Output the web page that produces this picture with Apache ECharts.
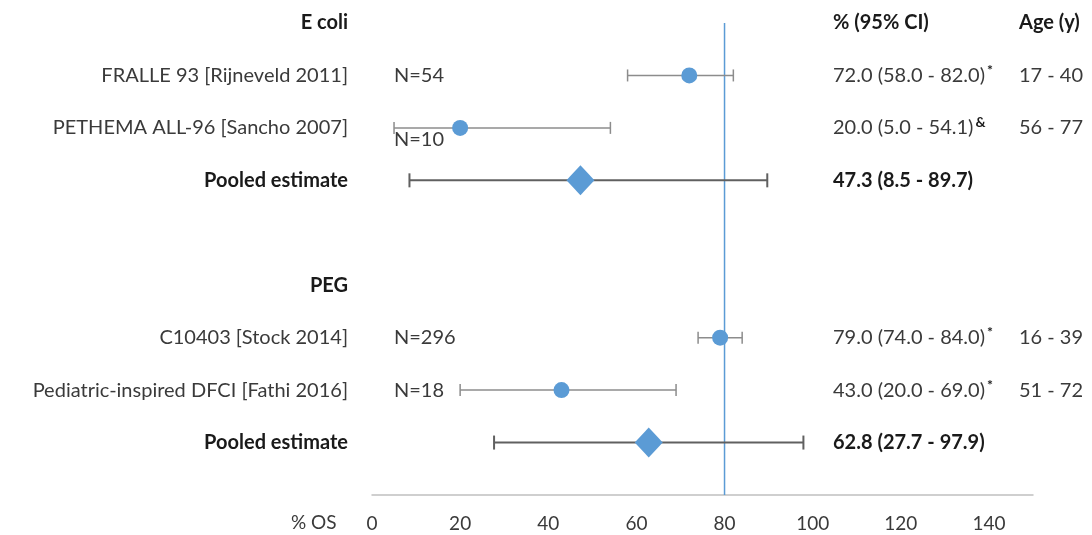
<!DOCTYPE html>
<html>
<head>
<meta charset="utf-8">
<script src="https://cdn.jsdelivr.net/npm/echarts@6/dist/echarts.min.js"></script>
<style>
html,body{margin:0;padding:0;background:#fff;}
#chart{width:1092px;height:535px;}
</style>
</head>
<body>
<div id="chart"></div>
<script>
// Row labels (row index = y position, top to bottom)
const rowLabels = ['E coli', 'FRALLE 93 [Rijneveld 2011]', 'PETHEMA ALL-96 [Sancho 2007]', 'Pooled estimate', '', 'PEG', 'C10403 [Stock 2014]', 'Pediatric-inspired DFCI [Fathi 2016]', 'Pooled estimate'];
const boldRows = [0, 3, 5, 8];
// Studies
const studyRows = [1, 2, 6, 7];
const studyEst = [72.0, 20.0, 79.0, 43.0];
const studyLow = [58.0, 5.0, 74.0, 20.0];
const studyHigh = [82.0, 54.1, 84.0, 69.0];
const studyN = ['N=54', 'N=10', 'N=296', 'N=18'];
const studyMark = ['*', '&', '*', '*'];
const studyAge = ['17 - 40', '56 - 77', '16 - 39', '51 - 72'];
// Pooled
const pooledRows = [3, 8];
const pooledEst = [47.3, 62.8];
const pooledLow = [8.5, 27.7];
const pooledHigh = [89.7, 97.9];
// Reference line
const refValue = 80;
const xTicks = [0, 20, 40, 60, 80, 100, 120, 140];

const FONT = 'Lato';
const FS = 20;
const TXT = '#3a3a3a';
const BLUE = '#5B9BD5';

const chart = echarts.init(document.getElementById('chart'));

function errRender(color, width, capH) {
  return function (params, api) {
    const y = api.value(0);
    const p1 = api.coord([api.value(1), y]);
    const p2 = api.coord([api.value(2), y]);
    const st = { stroke: color, lineWidth: width };
    return {
      type: 'group',
      children: [
        { type: 'line', shape: { x1: p1[0], y1: p1[1], x2: p2[0], y2: p2[1] }, style: st },
        { type: 'line', shape: { x1: p1[0], y1: p1[1] - capH, x2: p1[0], y2: p1[1] + capH }, style: st },
        { type: 'line', shape: { x1: p2[0], y1: p2[1] - capH, x2: p2[0], y2: p2[1] + capH }, style: st }
      ]
    };
  };
}

const textItems = [];
textItems.push({ row: 0, col: 'ci', text: '{b|% (95% CI)}' });
textItems.push({ row: 0, col: 'age', text: '{b|Age (y)}' });
studyRows.forEach((r, i) => {
  textItems.push({ row: r, col: 'n', text: studyN[i], dy: i === 1 ? 12 : 0 });
  textItems.push({ row: r, col: 'ci', text: '{n|' + studyEst[i].toFixed(1) + ' (' + studyLow[i].toFixed(1) + ' - ' + studyHigh[i].toFixed(1) + ')}{s|' + studyMark[i] + '}' });
  textItems.push({ row: r, col: 'age', text: studyAge[i] });
});
pooledRows.forEach((r, i) => {
  textItems.push({ row: r, col: 'ci', text: '{b|' + pooledEst[i].toFixed(1) + ' (' + pooledLow[i].toFixed(1) + ' - ' + pooledHigh[i].toFixed(1) + ')}' });
});
const colX = { n: 394, ci: 833, age: 1019 };

const option = {
  animation: false,
  backgroundColor: '#ffffff',
  grid: { left: 372, right: 59, top: 23, bottom: 40 },
  xAxis: {
    type: 'value', min: 0, max: 150, interval: 20, position: 'bottom',
    axisLine: { show: true, onZero: false, lineStyle: { color: '#c0c0c0', width: 1.5 } },
    axisTick: { show: false },
    splitLine: { show: false },
    axisLabel: { color: TXT, fontFamily: FONT, fontSize: 19, margin: 19, showMaxLabel: false,
      formatter: v => (xTicks.indexOf(v) >= 0 ? String(v) : '') }
  },
  yAxis: {
    type: 'value', min: 0, max: 9, interval: 1, inverse: true,
    axisLine: { show: false }, axisTick: { show: false }, splitLine: { show: false },
    axisLabel: {
      margin: 24, fontFamily: FONT, fontSize: FS, color: TXT,
      formatter: function (v) {
        const t = rowLabels[v] || '';
        if (!t) return '';
        return boldRows.indexOf(v) >= 0 ? '{b|' + t + '}' : '{n|' + t + '}';
      },
      rich: {
        b: { fontFamily: FONT, fontSize: FS, fontWeight: 'bold', color: '#1a1a1a' },
        n: { fontFamily: FONT, fontSize: FS, color: TXT }
      }
    }
  },
  graphic: [
    { type: 'text', left: 291, top: 513, style: { text: '% OS', fontFamily: FONT, fontSize: 19, fill: TXT } }
  ],
  series: [
    {
      type: 'line', data: [[refValue, 0], [refValue, 9]], symbol: 'none',
      lineStyle: { color: BLUE, width: 1.5 }, z: 1, silent: true
    },
    {
      type: 'custom', renderItem: errRender('#8c8c8c', 1.5, 6),
      data: studyRows.map((r, i) => [r, studyLow[i], studyHigh[i]]),
      encode: { x: [1, 2], y: 0 }, z: 2
    },
    {
      type: 'custom', renderItem: errRender('#606060', 2, 7),
      data: pooledRows.map((r, i) => [r, pooledLow[i], pooledHigh[i]]),
      encode: { x: [1, 2], y: 0 }, z: 2
    },
    {
      type: 'scatter', symbol: 'circle', symbolSize: 16,
      itemStyle: { color: BLUE, opacity: 1 },
      data: studyRows.map((r, i) => [studyEst[i], r]), z: 5
    },
    {
      type: 'scatter', symbol: 'diamond', symbolSize: [28, 30],
      itemStyle: { color: BLUE, opacity: 1 },
      data: pooledRows.map((r, i) => [pooledEst[i], r]), z: 5
    },
    {
      type: 'custom',
      data: textItems.map(t => [t.row, 0]),
      encode: { y: 0 },
      renderItem: function (params, api) {
        const it = textItems[params.dataIndex];
        const y = api.coord([0, it.row])[1] + (it.dy || 0);
        return {
          type: 'text', x: colX[it.col], y: y,
          style: {
            text: it.text, fontFamily: FONT, fontSize: FS, fill: TXT,
            verticalAlign: 'middle', align: 'left',
            rich: {
              b: { fontFamily: FONT, fontSize: FS, fontWeight: 'bold', fill: '#1a1a1a', color: '#1a1a1a' },
              n: { fontFamily: FONT, fontSize: FS, fill: TXT, color: TXT },
              s: { fontFamily: FONT, fontSize: 14, fontWeight: 'bold', fill: '#1a1a1a', color: '#1a1a1a', verticalAlign: 'top', padding: [0, 0, 10, 2] }
            }
          }
        };
      },
      z: 6
    }
  ]
};
chart.setOption(option);
</script>
</body>
</html>
